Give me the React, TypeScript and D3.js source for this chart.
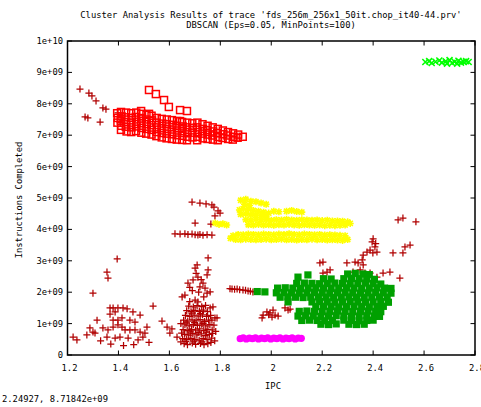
import React from "react";
import * as d3 from "d3";

// values: [IPC, instructions completed in units of 1e9]
const noise: [number, number][] = [
  [1.249, 8.47], [1.284, 8.34], [1.296, 8.25], [1.312, 8.09], [1.339, 7.87], [1.351, 7.83],
  [1.269, 7.58], [1.28, 7.55], [1.328, 7.42], [1.398, 7.71], [1.406, 7.42],
  [1.689, 4.87], [1.72, 4.84], [1.744, 4.81], [1.767, 4.78], [1.775, 4.71], [1.791, 4.59],
  [1.799, 4.52], [1.779, 4.43], [1.701, 4.2], [1.763, 4.17],
  [1.622, 3.86], [1.642, 3.85], [1.661, 3.86], [1.673, 3.84], [1.689, 3.85], [1.701, 3.83],
  [1.712, 3.82], [1.72, 3.84], [1.732, 3.81], [1.748, 3.83], [1.767, 3.82],
  [1.395, 3.06], [1.355, 2.64], [1.359, 2.45], [1.3, 1.97], [1.536, 1.56],
  [1.222, 0.57], [1.237, 0.48], [1.276, 0.64], [1.288, 0.86], [1.3, 0.73], [1.316, 1.11], [1.308, 0.7],
  [1.367, 1.5], [1.379, 1.5], [1.398, 1.5], [1.418, 1.5], [1.434, 1.47], [1.367, 1.3], [1.387, 1.37],
  [1.457, 1.37], [1.485, 1.27], [1.445, 1.11], [1.465, 1.05], [1.512, 0.89], [1.504, 0.7],
  [1.339, 0.86], [1.359, 0.8], [1.379, 0.89], [1.398, 0.96], [1.414, 0.89], [1.426, 0.8],
  [1.355, 0.57], [1.387, 0.54], [1.406, 0.57], [1.438, 0.54], [1.477, 0.48], [1.496, 0.57],
  [1.445, 0.8], [1.465, 0.8], [1.485, 0.73], [1.398, 1.11], [1.414, 1.18], [1.379, 1.11],
  [1.571, 1.08], [1.591, 0.89], [1.61, 0.83], [1.602, 0.7], [1.63, 0.57],
  [1.37, 0.35], [1.42, 0.3], [1.46, 0.33], [1.52, 0.4], [1.33, 0.45],
  [1.752, 3.09], [1.709, 2.87], [1.701, 2.77], [1.712, 2.48], [1.693, 2.39], [1.752, 2.71],
  [1.748, 2.55], [1.673, 2.29], [1.732, 2.29], [1.72, 2.17], [1.74, 2.13], [1.661, 1.91],
  [1.65, 1.85], [1.76, 2.01], [1.748, 1.97], [1.701, 1.75], [1.712, 1.69], [1.771, 1.53],
  [1.76, 1.5], [1.787, 1.18], [1.767, 1.11], [1.779, 1.18],
  [1.705, 2.6], [1.725, 2.4], [1.69, 2.05], [1.715, 2.0], [1.68, 2.15], [1.735, 1.85], [1.68, 1.7],
  [1.658, 0.36], [1.671, 0.33], [1.69, 0.38], [1.703, 0.34], [1.722, 0.37], [1.736, 0.33], [1.751, 0.36], [1.763, 0.4],
  [1.652, 0.52], [1.668, 0.49], [1.684, 0.53], [1.7, 0.5], [1.717, 0.47], [1.733, 0.52], [1.748, 0.49], [1.766, 0.54],
  [1.66, 0.66], [1.676, 0.63], [1.692, 0.68], [1.708, 0.64], [1.725, 0.67], [1.741, 0.62], [1.757, 0.66], [1.77, 0.69],
  [1.654, 0.81], [1.67, 0.78], [1.687, 0.82], [1.703, 0.79], [1.719, 0.83], [1.735, 0.78], [1.751, 0.82], [1.768, 0.8],
  [1.661, 0.96], [1.678, 0.93], [1.694, 0.97], [1.71, 0.94], [1.727, 0.98], [1.743, 0.93], [1.759, 0.97],
  [1.656, 1.11], [1.672, 1.08], [1.689, 1.12], [1.705, 1.09], [1.721, 1.13], [1.738, 1.07], [1.754, 1.11],
  [1.663, 1.26], [1.68, 1.23], [1.697, 1.27], [1.713, 1.24], [1.73, 1.28], [1.746, 1.23], [1.762, 1.26],
  [1.668, 1.41], [1.685, 1.38], [1.701, 1.42], [1.718, 1.39], [1.734, 1.43], [1.75, 1.38],
  [1.676, 1.56], [1.694, 1.53], [1.709, 1.57], [1.727, 1.54], [1.742, 1.58],
  [1.665, 0.43], [1.697, 0.44], [1.728, 0.42], [1.682, 0.74], [1.713, 0.72], [1.745, 0.73],
  [1.666, 1.02], [1.699, 1.03], [1.732, 1.01], [1.688, 1.33], [1.722, 1.32],
  [1.645, 0.42], [1.648, 0.7], [1.778, 0.45], [1.782, 0.75], [1.775, 0.95], [1.645, 1.0],
  [1.838, 2.11], [1.846, 2.1], [1.856, 2.09], [1.866, 2.1], [1.876, 2.08], [1.889, 2.07],
  [1.899, 2.06], [1.909, 2.04], [1.918, 2.03], [1.928, 2.01],
  [1.964, 1.18], [1.968, 1.27], [1.983, 1.37], [1.99, 1.28], [1.995, 1.34], [2.003, 1.21],
  [2.007, 1.43], [2.015, 1.27], [2.027, 1.24], [2.054, 1.5], [2.066, 1.43], [2.074, 1.46],
  [2.191, 2.93], [2.203, 2.96], [2.297, 2.93], [2.329, 2.96], [2.341, 2.93], [2.357, 3.03], [2.361, 2.87],
  [2.203, 2.61], [2.219, 2.64], [2.231, 2.71], [2.321, 2.64], [2.349, 2.71], [2.368, 2.61], [2.388, 2.61],
  [2.415, 2.48], [2.439, 2.61], [2.466, 2.64], [2.505, 2.45],
  [2.361, 3.18], [2.376, 3.28], [2.388, 3.34], [2.399, 3.25], [2.415, 3.28], [2.407, 3.44],
  [2.396, 3.6], [2.478, 3.25], [2.517, 3.25], [2.525, 3.44], [2.545, 3.5],
  [2.498, 4.3], [2.517, 4.36], [2.568, 4.24], [2.4, 3.7], [2.41, 3.55],
];

const clusterRed: [number, number][] = [
  [1.52, 8.44], [1.547, 8.31], [1.579, 8.12], [1.598, 7.9], [1.489, 7.77], [1.52, 7.68],
  [1.642, 7.8], [1.669, 7.77], [1.642, 7.45], [1.65, 7.23], [1.41, 7.17],
  [1.395, 7.7], [1.397, 7.55], [1.396, 7.4],
  [1.41, 7.74], [1.412, 7.6], [1.409, 7.46], [1.411, 7.3],
  [1.43, 7.72], [1.428, 7.57], [1.431, 7.42], [1.429, 7.27], [1.432, 7.12],
  [1.45, 7.7], [1.452, 7.55], [1.449, 7.4], [1.451, 7.25], [1.45, 7.1],
  [1.47, 7.72], [1.468, 7.58], [1.471, 7.43], [1.47, 7.28], [1.469, 7.13],
  [1.49, 7.68], [1.492, 7.53], [1.489, 7.38], [1.491, 7.23], [1.49, 7.08],
  [1.51, 7.65], [1.508, 7.5], [1.511, 7.35], [1.51, 7.2], [1.509, 7.05],
  [1.53, 7.62], [1.532, 7.47], [1.529, 7.32], [1.531, 7.17], [1.53, 7.02],
  [1.55, 7.55], [1.548, 7.4], [1.551, 7.25], [1.55, 7.1], [1.549, 6.97],
  [1.57, 7.52], [1.572, 7.37], [1.569, 7.22], [1.571, 7.07], [1.57, 6.93],
  [1.59, 7.5], [1.588, 7.35], [1.591, 7.2], [1.59, 7.05], [1.589, 6.9],
  [1.61, 7.48], [1.612, 7.33], [1.609, 7.18], [1.611, 7.03], [1.61, 6.88],
  [1.63, 7.45], [1.628, 7.3], [1.631, 7.15], [1.63, 7.0], [1.629, 6.86],
  [1.65, 7.42], [1.652, 7.28], [1.649, 7.13], [1.651, 6.98], [1.65, 6.85],
  [1.67, 7.4], [1.668, 7.25], [1.671, 7.1], [1.67, 6.95], [1.669, 6.84],
  [1.69, 7.38], [1.692, 7.23], [1.689, 7.08], [1.691, 6.93],
  [1.71, 7.4], [1.708, 7.25], [1.711, 7.1], [1.71, 6.95], [1.709, 6.84],
  [1.73, 7.35], [1.732, 7.2], [1.729, 7.05], [1.731, 6.9],
  [1.75, 7.3], [1.748, 7.16], [1.751, 7.02], [1.75, 6.88],
  [1.77, 7.25], [1.772, 7.12], [1.769, 6.99], [1.771, 6.86],
  [1.79, 7.2], [1.788, 7.07], [1.791, 6.94], [1.79, 6.84],
  [1.81, 7.15], [1.812, 7.03], [1.809, 6.91],
  [1.83, 7.1], [1.828, 6.99], [1.831, 6.88],
  [1.85, 7.06], [1.852, 6.95], [1.849, 6.86],
  [1.87, 7.02], [1.868, 6.92], [1.888, 6.95],
];

const clusterYellow: [number, number][] = [
  [1.88, 4.93], [1.9, 4.96], [1.92, 4.9], [1.94, 4.88], [1.96, 4.84], [1.98, 4.8], [1.895, 4.8], [1.915, 4.76],
  [1.875, 4.62], [1.89, 4.66], [1.91, 4.64], [1.93, 4.6], [1.95, 4.58], [1.97, 4.55], [1.99, 4.52],
  [1.88, 4.48], [1.9, 4.5], [1.92, 4.47], [1.94, 4.45], [1.96, 4.44], [1.98, 4.42],
  [2.01, 4.58], [2.03, 4.56], [2.06, 4.58], [2.08, 4.6], [2.1, 4.57], [2.12, 4.55],
  [1.9, 4.31], [1.92, 4.3], [1.94, 4.32], [1.96, 4.3], [1.98, 4.31], [2.0, 4.29], [2.02, 4.31],
  [2.04, 4.3], [2.06, 4.32], [2.08, 4.3], [2.1, 4.29], [2.12, 4.31], [2.14, 4.3], [2.16, 4.29],
  [2.18, 4.3], [2.2, 4.28], [2.22, 4.29], [2.24, 4.27], [2.26, 4.27], [2.28, 4.26], [2.3, 4.24],
  [1.91, 4.15], [1.93, 4.14], [1.95, 4.16], [1.97, 4.14], [1.99, 4.15], [2.01, 4.13], [2.03, 4.15],
  [2.05, 4.14], [2.07, 4.16], [2.09, 4.14], [2.11, 4.13], [2.13, 4.15], [2.15, 4.14], [2.17, 4.13],
  [2.19, 4.14], [2.21, 4.12], [2.23, 4.13], [2.25, 4.12], [2.27, 4.13], [2.29, 4.14], [2.31, 4.19],
  [1.85, 3.8], [1.87, 3.84], [1.89, 3.83], [1.91, 3.85], [1.93, 3.84], [1.95, 3.83], [1.97, 3.85],
  [1.99, 3.84], [2.01, 3.83], [2.03, 3.85], [2.05, 3.84], [2.07, 3.86], [2.09, 3.84], [2.11, 3.83],
  [2.13, 3.85], [2.15, 3.84], [2.17, 3.83], [2.19, 3.84], [2.21, 3.82], [2.23, 3.83], [2.25, 3.82],
  [2.27, 3.81], [2.29, 3.8],
  [1.84, 3.72], [1.86, 3.68], [1.88, 3.67], [1.9, 3.69], [1.92, 3.68], [1.94, 3.67], [1.96, 3.68],
  [1.98, 3.69], [2.0, 3.67], [2.02, 3.68], [2.04, 3.69], [2.06, 3.67], [2.08, 3.68], [2.1, 3.66],
  [2.12, 3.68], [2.14, 3.67], [2.16, 3.69], [2.18, 3.67], [2.2, 3.68], [2.22, 3.66], [2.24, 3.67],
  [2.26, 3.66], [2.28, 3.65], [2.3, 3.68],
  [1.78, 4.2], [1.795, 4.16], [1.81, 4.18], [1.825, 4.14],
];

const clusterGreen: [number, number][] = [
  [2.105, 2.48], [2.144, 2.55], [2.3, 2.58], [2.33, 2.6], [2.36, 2.58], [2.385, 2.56],
  [2.205, 2.43], [2.235, 2.42], [2.285, 2.43], [2.315, 2.44], [2.345, 2.43], [2.375, 2.42], [2.405, 2.41],
  [2.1, 2.28], [2.13, 2.29], [2.16, 2.28], [2.19, 2.27], [2.22, 2.28], [2.25, 2.29], [2.28, 2.28],
  [2.31, 2.27], [2.34, 2.28], [2.37, 2.29], [2.4, 2.28], [2.43, 2.26],
  [2.025, 2.13], [2.055, 2.14], [2.085, 2.13], [2.115, 2.12], [2.145, 2.13], [2.175, 2.14],
  [2.205, 2.13], [2.235, 2.12], [2.265, 2.13], [2.295, 2.14], [2.325, 2.13], [2.355, 2.12],
  [2.385, 2.13], [2.415, 2.14], [2.445, 2.13], [2.47, 2.12],
  [1.945, 2.02], [1.975, 2.01], [2.02, 1.98], [2.05, 1.99], [2.08, 1.98], [2.11, 1.97], [2.14, 1.98],
  [2.17, 1.99], [2.2, 1.98], [2.23, 1.97], [2.26, 1.98], [2.29, 1.99], [2.32, 1.98], [2.35, 1.97],
  [2.38, 1.98], [2.41, 1.99], [2.44, 1.98], [2.47, 1.97],
  [2.035, 1.84], [2.065, 1.85], [2.095, 1.84], [2.125, 1.83], [2.155, 1.84], [2.185, 1.85],
  [2.215, 1.84], [2.245, 1.83], [2.275, 1.84], [2.305, 1.85], [2.335, 1.84], [2.365, 1.83],
  [2.395, 1.84], [2.425, 1.85], [2.455, 1.84],
  [2.066, 1.69], [2.16, 1.69], [2.19, 1.7], [2.22, 1.69], [2.25, 1.68], [2.28, 1.69], [2.31, 1.7],
  [2.34, 1.69], [2.37, 1.68], [2.4, 1.69], [2.43, 1.7], [2.46, 1.68],
  [2.175, 1.54], [2.205, 1.55], [2.235, 1.54], [2.265, 1.53], [2.295, 1.54], [2.325, 1.55],
  [2.355, 1.54], [2.385, 1.53], [2.415, 1.54], [2.44, 1.55],
  [2.11, 1.39], [2.14, 1.4], [2.17, 1.39], [2.2, 1.38], [2.23, 1.39], [2.26, 1.4], [2.29, 1.39],
  [2.32, 1.38], [2.35, 1.39], [2.38, 1.4], [2.41, 1.39], [2.43, 1.38],
  [2.105, 1.24], [2.135, 1.25], [2.165, 1.24], [2.195, 1.23], [2.225, 1.24], [2.255, 1.25],
  [2.285, 1.24], [2.315, 1.23], [2.345, 1.24], [2.375, 1.25], [2.405, 1.24], [2.425, 1.23],
  [2.12, 1.1], [2.15, 1.11], [2.18, 1.1], [2.21, 1.09], [2.24, 1.1], [2.285, 1.11], [2.315, 1.1],
  [2.345, 1.09], [2.375, 1.1], [2.4, 1.11],
  [2.195, 0.98], [2.225, 0.97], [2.255, 0.99], [2.305, 0.98], [2.335, 0.97], [2.365, 0.98],
];

const clusterMagenta: [number, number][] = [
  [1.878, 0.52], [1.89, 0.55], [1.902, 0.51], [1.914, 0.54], [1.926, 0.52], [1.938, 0.55],
  [1.95, 0.51], [1.962, 0.54], [1.974, 0.52], [1.986, 0.55], [1.998, 0.51], [2.01, 0.54],
  [2.022, 0.52], [2.034, 0.55], [2.046, 0.51], [2.058, 0.54], [2.07, 0.52], [2.082, 0.55],
  [2.094, 0.51], [2.106, 0.54], [2.118, 0.53],
];

const clusterLime: [number, number][] = [
  [2.605, 9.33], [2.62, 9.36], [2.63, 9.3], [2.645, 9.34], [2.66, 9.38], [2.67, 9.31],
  [2.685, 9.35], [2.7, 9.39], [2.71, 9.3], [2.72, 9.34], [2.735, 9.37], [2.745, 9.31],
  [2.755, 9.34], [2.765, 9.36], [2.775, 9.33], [2.69, 9.28], [2.73, 9.28],
];

const xTicks = [1.2, 1.4, 1.6, 1.8, 2.0, 2.2, 2.4, 2.6, 2.8];
const yTicks = [0, 1e9, 2e9, 3e9, 4e9, 5e9, 6e9, 7e9, 8e9, 9e9, 1e10];

const titleLines = [
  "Cluster Analysis Results of trace 'fds_256m_256x1_50it.chop_it40-44.prv'",
  "DBSCAN (Eps=0.05, MinPoints=100)",
];
const xLabel = "IPC";
const yLabel = "Instructions Completed";
const statusText = "2.24927, 8.71842e+09";

const W = 481;
const H = 407;
const margin = { left: 67.5, right: 475, top: 41, bottom: 355 };
const font = "'DejaVu Sans Mono', monospace";

const fmtY = (v: number) => {
  if (v === 0) return "0";
  const [m, e] = v.toExponential(0).split("e+");
  return `${m}e+${e.padStart(2, "0")}`;
};

export default function App() {
  const x = d3.scaleLinear().domain([1.2, 2.8]).range([margin.left, margin.right]);
  const y = d3.scaleLinear().domain([0, 1e10]).range([margin.bottom, margin.top]);
  const px = (d: [number, number]) => x(d[0]);
  const py = (d: [number, number]) => y(d[1] * 1e9);
  const tick = 4.5;

  return (
    <svg
      width={W}
      height={H}
      style={{ position: "absolute", left: 0, top: 0, background: "#fff" }}
      fontFamily={font}
      fontSize={8.8}
    >
      <rect width={W} height={H} fill="#fff" />
      {titleLines.map((t, i) => (
        <text key={t} x={271} y={18 + i * 10} textAnchor="middle" fill="#000">
          {t}
        </text>
      ))}

      {/* noise points */}
      <g stroke="#b00000" strokeWidth={1.25} fill="none">
        {noise.map((d, i) => {
          const cx = px(d), cy = py(d);
          return <path key={i} d={`M${cx - 3.5},${cy}h7M${cx},${cy - 3.5}v7`} />;
        })}
      </g>
      {/* cluster 1 : open squares */}
      <g stroke="#ff0000" strokeWidth={1.5} fill="none">
        {clusterRed.map((d, i) => (
          <rect key={i} x={px(d) - 3.5} y={py(d) - 3.5} width={7} height={7} />
        ))}
      </g>
      {/* cluster 2 : stars */}
      <g stroke="#ffff00" strokeWidth={1.6} fill="none">
        {clusterYellow.map((d, i) => {
          const cx = px(d), cy = py(d), s = 3.5;
          return (
            <path
              key={i}
              d={`M${cx - s},${cy}h${2 * s}M${cx},${cy - s}v${2 * s}M${cx - s * 0.75},${cy - s * 0.75}l${1.5 * s},${1.5 * s}M${cx - s * 0.75},${cy + s * 0.75}l${1.5 * s},${-1.5 * s}`}
            />
          );
        })}
      </g>
      {/* cluster 3 : filled squares */}
      <g fill="#00a000">
        {clusterGreen.map((d, i) => (
          <rect key={i} x={px(d) - 3.6} y={py(d) - 3.6} width={7.2} height={7.2} />
        ))}
      </g>
      {/* cluster 4 */}
      <g fill="#ff00ff">
        {clusterMagenta.map((d, i) => (
          <circle key={i} cx={px(d)} cy={py(d)} r={3.6} />
        ))}
      </g>
      {/* cluster 5 : crosses */}
      <g stroke="#00ff00" strokeWidth={1.6} fill="none">
        {clusterLime.map((d, i) => {
          const cx = px(d), cy = py(d), s = 3;
          return <path key={i} d={`M${cx - s},${cy - s}l${2 * s},${2 * s}M${cx - s},${cy + s}l${2 * s},${-2 * s}`} />;
        })}
      </g>

      {/* ticks, mirrored on all sides */}
      <g stroke="#000" strokeWidth={1}>
        {xTicks.map((t) => (
          <g key={t}>
            <line x1={x(t)} x2={x(t)} y1={margin.bottom} y2={margin.bottom - tick} />
            <line x1={x(t)} x2={x(t)} y1={margin.top} y2={margin.top + tick} />
          </g>
        ))}
        {yTicks.map((t) => (
          <g key={t}>
            <line x1={margin.left} x2={margin.left + tick} y1={y(t)} y2={y(t)} />
            <line x1={margin.right} x2={margin.right - tick} y1={y(t)} y2={y(t)} />
          </g>
        ))}
      </g>
      <rect
        x={margin.left}
        y={margin.top}
        width={margin.right - margin.left}
        height={margin.bottom - margin.top}
        fill="none"
        stroke="#000"
        strokeWidth={1.5}
      />

      {xTicks.map((t) => (
        <text key={t} x={x(t) + 2} y={371} textAnchor="middle" fill="#000">
          {String(+t.toFixed(1))}
        </text>
      ))}
      {yTicks.map((t) => (
        <text key={t} x={63} y={y(t) + 3} textAnchor="end" fill="#000">
          {fmtY(t)}
        </text>
      ))}
      <text x={273} y={389} textAnchor="middle" fill="#000">
        {xLabel}
      </text>
      <text transform="translate(22,200) rotate(-90)" textAnchor="middle" fill="#000">
        {yLabel}
      </text>
      <text x={2} y={402} fill="#000">
        {statusText}
      </text>
    </svg>
  );
}
